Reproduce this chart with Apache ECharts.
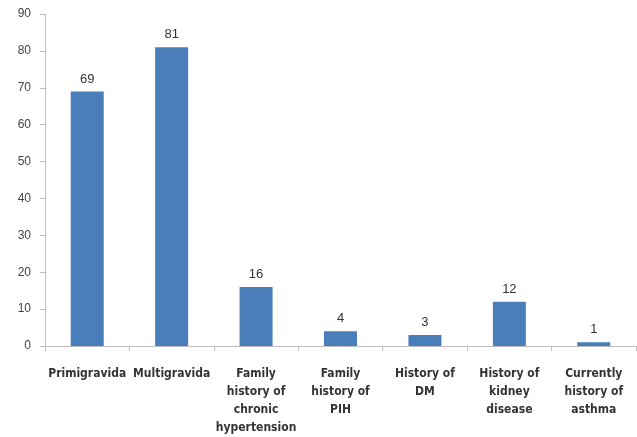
<!DOCTYPE html>
<html>
<head>
<meta charset="utf-8">
<script src="https://cdn.jsdelivr.net/npm/echarts@6.0.0/dist/echarts.min.js"></script>
<style>
  html, body { margin: 0; padding: 0; background: #fff; }
  #chart { width: 637px; height: 437px; }
</style>
</head>
<body>
<div id="chart"></div>
<script>
const categories = [
  "Primigravida",
  "Multigravida",
  "Family\nhistory of\nchronic\nhypertension",
  "Family\nhistory of\nPIH",
  "History of\nDM",
  "History of\nkidney\ndisease",
  "Currently\nhistory of\nasthma"
];
const counts = [69, 81, 16, 4, 3, 12, 1];

const chart = echarts.init(document.getElementById("chart"));
chart.setOption({
  animation: false,
  grid: { left: 45, right: 1, top: 14, bottom: 90, containLabel: false },
  xAxis: {
    type: "category",
    data: categories,
    axisLine: { lineStyle: { color: "#bfbfbf", width: 1 } },
    axisTick: { show: true, alignWithLabel: false, length: 5, lineStyle: { color: "#bfbfbf" } },
    axisLabel: {
      interval: 0,
      margin: 19,
      color: "#333",
      fontFamily: "DejaVu Sans Condensed, Liberation Sans Narrow, sans-serif",
      fontWeight: "bold",
      fontSize: 12,
      lineHeight: 18
    }
  },
  yAxis: {
    type: "value",
    min: 0,
    max: 90,
    interval: 10,
    axisLine: { show: true, lineStyle: { color: "#bfbfbf", width: 1 } },
    axisTick: { show: true, length: 5, lineStyle: { color: "#bfbfbf" } },
    splitLine: { show: false },
    axisLabel: {
      color: "#444",
      fontFamily: "Liberation Sans, Arial, sans-serif",
      fontSize: 12,
      margin: 14
    }
  },
  series: [
    {
      type: "bar",
      data: counts,
      barWidth: 33,
      itemStyle: { color: "#4a7ebb" },
      label: {
        show: true,
        position: "top",
        distance: 6,
        color: "#333",
        fontFamily: "Liberation Sans, Arial, sans-serif",
        fontSize: 13
      }
    }
  ]
});
</script>
</body>
</html>
